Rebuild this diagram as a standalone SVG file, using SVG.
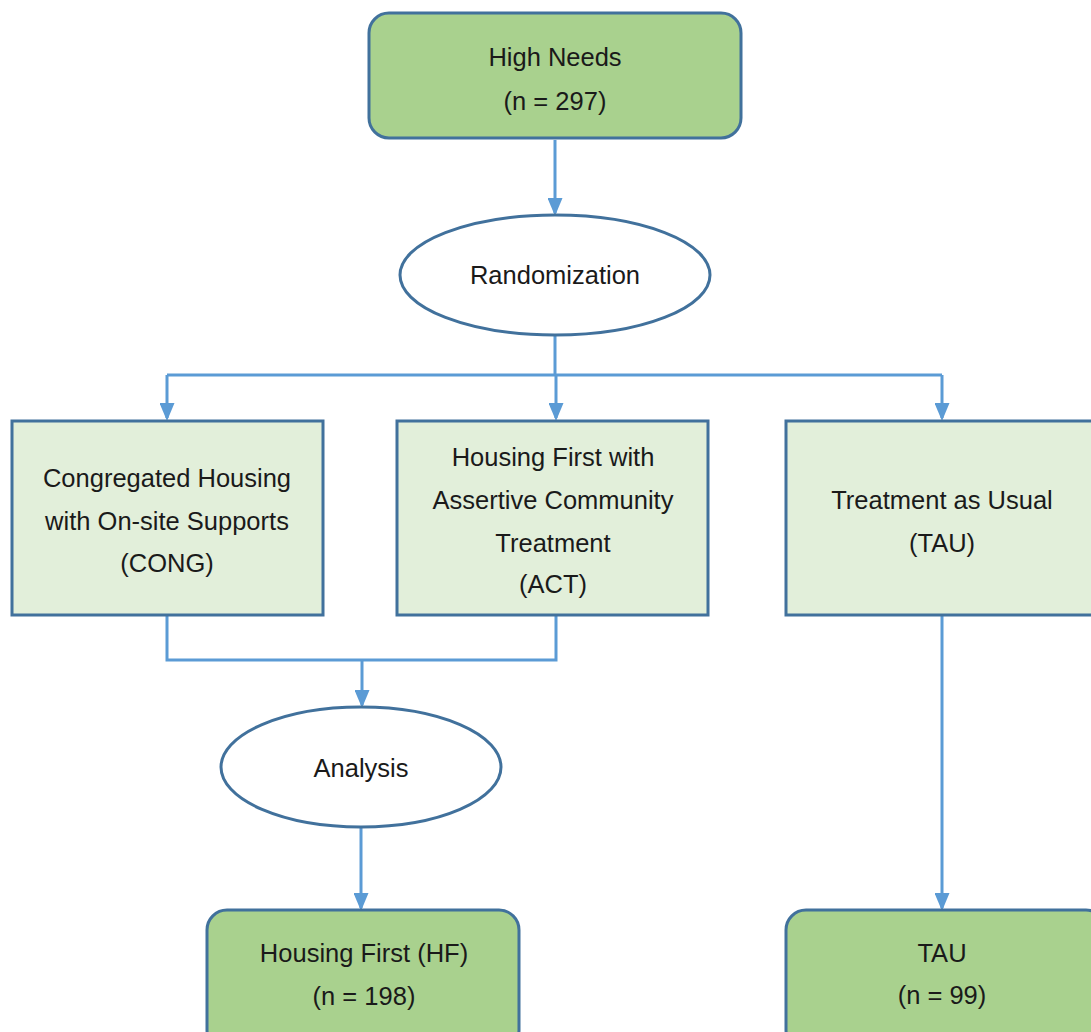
<svg xmlns="http://www.w3.org/2000/svg" width="1091" height="1032" viewBox="0 0 1091 1032">
<style>
.dark{fill:#a9d18e;stroke:#41719c;stroke-width:3}
.light{fill:#e2efda;stroke:#41719c;stroke-width:3}
.ell{fill:#ffffff;stroke:#41719c;stroke-width:3}
.conn{fill:none;stroke:#5b9bd5;stroke-width:3}
text{font-family:"Liberation Sans",Arial,sans-serif;font-size:25.5px;fill:#1a1a1a;text-anchor:middle;dominant-baseline:central}
</style>
<defs>
<marker id="ah" markerWidth="6" markerHeight="5" refX="5" refY="2.5" orient="auto" markerUnits="strokeWidth">
<path d="M0,0 L6,2.5 L0,5 Z" fill="#5b9bd5"/>
</marker>
</defs>
<rect width="1091" height="1032" fill="#ffffff"/>
<g id="connectors">
<path class="conn" d="M555,140 V213" marker-end="url(#ah)"/>
<path class="conn" d="M555,335 V375"/>
<path class="conn" d="M167,375 H942"/>
<path class="conn" d="M167,375 V418" marker-end="url(#ah)"/>
<path class="conn" d="M556,375 V418" marker-end="url(#ah)"/>
<path class="conn" d="M942,375 V418" marker-end="url(#ah)"/>
<path class="conn" d="M167,616 V660 H556 V616"/>
<path class="conn" d="M362,660 V705" marker-end="url(#ah)"/>
<path class="conn" d="M361,828 V908" marker-end="url(#ah)"/>
<path class="conn" d="M942,616 V908" marker-end="url(#ah)"/>
</g>
<g id="high-needs">
<rect class="dark" x="369" y="13" width="372" height="125" rx="20"/>
<text x="555" y="57">High Needs</text>
<text x="555" y="101">(n = 297)</text>
</g>
<g id="randomization">
<ellipse class="ell" cx="555" cy="275" rx="155" ry="60"/>
<text x="555" y="275">Randomization</text>
</g>
<g id="cong">
<rect class="light" x="12" y="421" width="311" height="194"/>
<text x="167" y="478">Congregated Housing</text>
<text x="167" y="521">with On-site Supports</text>
<text x="167" y="563">(CONG)</text>
</g>
<g id="act">
<rect class="light" x="397" y="421" width="311" height="194"/>
<text x="553" y="457">Housing First with</text>
<text x="553" y="500">Assertive Community</text>
<text x="553" y="543">Treatment</text>
<text x="553" y="584">(ACT)</text>
</g>
<g id="tau-arm">
<rect class="light" x="786" y="421" width="310" height="194"/>
<text x="942" y="500">Treatment as Usual</text>
<text x="942" y="543">(TAU)</text>
</g>
<g id="analysis">
<ellipse class="ell" cx="361" cy="767" rx="140" ry="60"/>
<text x="361" y="768">Analysis</text>
</g>
<g id="hf">
<rect class="dark" x="207" y="910" width="312" height="140" rx="20"/>
<text x="364" y="953">Housing First (HF)</text>
<text x="364" y="996">(n = 198)</text>
</g>
<g id="tau">
<rect class="dark" x="786" y="910" width="320" height="140" rx="20"/>
<text x="942" y="953">TAU</text>
<text x="942" y="995">(n = 99)</text>
</g>
</svg>
